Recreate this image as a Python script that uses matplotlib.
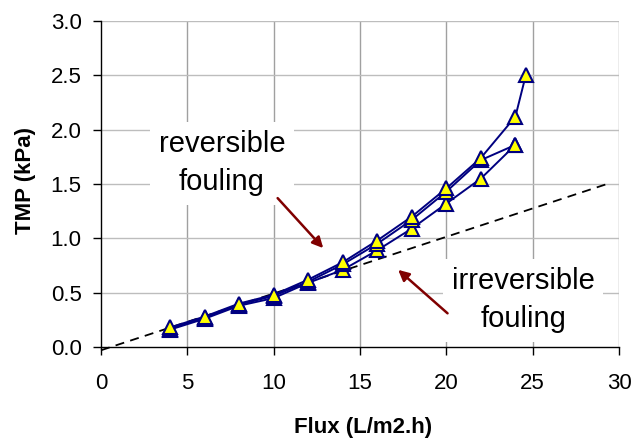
import matplotlib
matplotlib.use("Agg")
import matplotlib.pyplot as plt

plt.rcParams['font.family'] = ['Liberation Sans', 'DejaVu Sans']

# Flux steps (L/m2.h) and measured TMP (kPa) for three filtration runs
flux_a = [4, 6, 8, 10, 12, 14, 16, 18, 20, 22, 24, 24.6]
tmp_a = [0.18, 0.28, 0.40, 0.48, 0.62, 0.78, 0.98, 1.20, 1.46, 1.74, 2.12, 2.50]

flux_b = [4, 6, 8, 10, 12, 14, 16, 18, 20, 22, 24]
tmp_b = [0.17, 0.27, 0.39, 0.47, 0.60, 0.76, 0.95, 1.17, 1.43, 1.72, 1.86]

flux_c = [4, 6, 8, 10, 12, 14, 16, 18, 20, 22, 24]
tmp_c = [0.16, 0.26, 0.38, 0.45, 0.59, 0.71, 0.89, 1.09, 1.32, 1.55, 1.86]

# Irreversible fouling baseline (linear trend)
base_x = [0, 29.5]
base_y = [-0.03, 1.51]

x_ticks = [0, 5, 10, 15, 20, 25, 30]
y_ticks = [0.0, 0.5, 1.0, 1.5, 2.0, 2.5, 3.0]

fig = plt.figure(figsize=(6.36, 4.42), dpi=100)
ax = fig.add_axes([101 / 636, 95 / 442, 518 / 636, 326 / 442])

ax.set_xlim(0, 30)
ax.set_ylim(0, 3)
ax.set_xticks(x_ticks)
ax.set_yticks(y_ticks)
ax.set_xticklabels([str(v) for v in x_ticks])
ax.set_yticklabels([f"{v:.1f}" for v in y_ticks])

# grid
for v in x_ticks[1:]:
    ax.axvline(v, color='#a0a0a0', lw=1.0, zorder=0)
for v in y_ticks[1:]:
    ax.axhline(v, color='#bdbdbd', lw=1.0, zorder=0)

for side in ('top', 'right'):
    ax.spines[side].set_visible(False)
ax.spines['left'].set_color('black')
ax.spines['bottom'].set_color('black')
ax.spines['left'].set_linewidth(1.0)
ax.spines['bottom'].set_linewidth(1.0)

ax.tick_params(axis='both', direction='out', length=6, width=1.0,
               labelsize=16, colors='black')
ax.tick_params(axis='y', pad=8)
ax.tick_params(axis='x', pad=13)

ax.plot(base_x, base_y, color='black', lw=1.3, ls=(0, (5, 3.5)),
        clip_on=False, zorder=2)

style = dict(color='#000080', lw=1.4, marker='^', markersize=10,
             markerfacecolor='#ffff00', markeredgecolor='#000080',
             markeredgewidth=1.5, zorder=3, clip_on=False)
ax.plot(flux_c, tmp_c, **style)
ax.plot(flux_b, tmp_b, **style)
ax.plot(flux_a, tmp_a, **style)

box = dict(boxstyle='square,pad=0.3', facecolor='white', edgecolor='none')
ax.text(7.0, 1.69, "reversible\nfouling", fontsize=21, ha='center',
        va='center', linespacing=1.45, bbox=box, zorder=4)
ax.text(24.45, 0.43, "irreversible\nfouling", fontsize=21, ha='center',
        va='center', linespacing=1.45, bbox=box, zorder=4)

arrow = dict(arrowstyle='-|>', color='#800000', lw=1.8, mutation_scale=16,
             shrinkA=0, shrinkB=0)
ax.annotate("", xy=(12.87, 0.91), xytext=(10.23, 1.37),
            arrowprops=arrow, zorder=5)
ax.annotate("", xy=(17.21, 0.71), xytext=(20.07, 0.31),
            arrowprops=arrow, zorder=5)

fig.text(362.8 / 636, 1 - 427 / 442, "Flux (L/m2.h)", fontsize=16,
         fontweight='bold', ha='center', va='center')
fig.text(25 / 636, 1 - 181 / 442, "TMP (kPa)", fontsize=16,
         fontweight='bold', ha='center', va='center', rotation=90)

fig.savefig("out.png", dpi=100)
